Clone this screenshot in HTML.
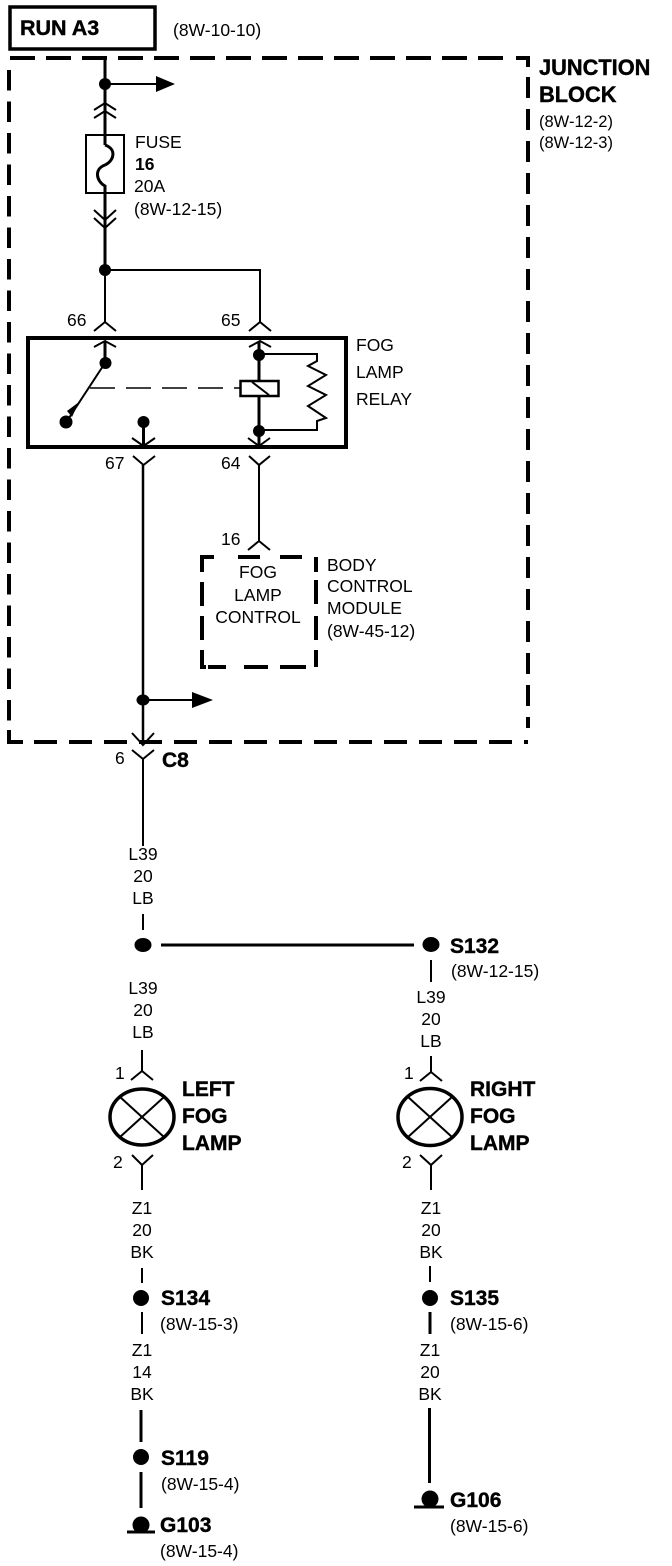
<!DOCTYPE html>
<html><head><meta charset="utf-8"><style>
html,body{margin:0;padding:0;background:#fff;width:672px;height:1566px;overflow:hidden}
svg{display:block}
text{font-family:"Liberation Sans",sans-serif;fill:#000}
.n{font-size:17.5px}
.b{font-size:21px;font-weight:bold;stroke:#000;stroke-width:.4px}
.m{text-anchor:middle}
.l{fill:none;stroke:#000;stroke-width:2}
.t{fill:none;stroke:#000;stroke-width:3}
.h{fill:none;stroke:#000;stroke-width:1.5}
.d{fill:none;stroke:#000;stroke-width:4}
</style></head><body>
<svg width="672" height="1566" viewBox="0 0 672 1566" xmlns="http://www.w3.org/2000/svg">
<rect x="10" y="7" width="145" height="42" fill="none" stroke="#000" stroke-width="3.5"/>
<text x="20" y="35" class="b" style="font-size:21.5px">RUN A3</text>
<text x="173" y="36" class="n">(8W-10-10)</text>

<!-- Junction block dashed outline -->
<path class="d" stroke-dasharray="25 11" d="M10 58H506"/>
<path class="d" d="M516 58H528V67"/>
<path class="d" stroke-dasharray="21 11" d="M528 77V728"/>
<path class="d" stroke-dasharray="20.5 11" d="M9 70V722"/>
<path class="d" stroke-dasharray="23 12" d="M34 742H528"/>
<path class="d" d="M9 730V742H23"/>
<text x="539" y="75" class="b" style="font-size:21.8px">JUNCTION</text>
<text x="539" y="102" class="b" style="font-size:21.8px">BLOCK</text>
<text x="539" y="127" class="n" style="font-size:16.5px">(8W-12-2)</text>
<text x="539" y="148" class="n" style="font-size:16.5px">(8W-12-3)</text>

<!-- Feed and fuse -->
<path class="t" d="M105 58V145"/>
<circle cx="105" cy="84" r="6"/>
<path class="l" d="M105 84H158"/>
<path d="M156 76L175 84L156 92Z"/>
<path class="l" d="M94 110L105 103L116 110M94 118L105 111L116 118"/>
<rect x="86" y="135" width="38" height="58" class="l"/>
<path class="t" d="M105 145C117 149 114 161 105 165C94 169 96 181 105 186V193"/>
<path class="t" d="M105 193V270"/>
<path class="l" d="M94 210L105 220L116 210M94 218L105 228L116 218"/>
<text x="135" y="148" class="n">FUSE</text>
<text x="135" y="170" class="n" style="font-weight:bold">16</text>
<text x="134" y="192" class="n">20A</text>
<text x="134" y="215" class="n">(8W-12-15)</text>

<circle cx="105" cy="270" r="6"/>
<path class="l" d="M105 270H260V322"/>
<path class="l" d="M105 270V322"/>
<path class="l" d="M94 331L105 322L116 331M249 331L260 322L271 331"/>
<text x="67" y="326" class="n">66</text>
<text x="221" y="326" class="n">65</text>

<!-- Relay -->
<rect x="28" y="338" width="318" height="109" fill="none" stroke="#000" stroke-width="4"/>
<text x="356" y="351" class="n">FOG</text>
<text x="356" y="378" class="n">LAMP</text>
<text x="356" y="405" class="n">RELAY</text>
<path class="l" d="M94 347L105 341L116 347M249 347L260 341L271 347"/>
<path class="t" d="M105 342V363"/>
<circle cx="105.500" cy="363" r="6"/>
<path class="l" d="M105 363L67 421"/>
<path d="M79 402L72 417L67 411Z"/>
<circle cx="66" cy="422" r="6.500"/>
<path class="h" stroke-dasharray="25 11" d="M90 388H240"/>
<path class="t" d="M259 342V381"/>
<circle cx="259" cy="355" r="6"/>
<rect x="240.500" y="381" width="38" height="15" fill="none" stroke="#000" stroke-width="2.500"/>
<path class="l" d="M252 382L269 395"/>
<path class="t" d="M259 396V445"/>
<circle cx="259" cy="431" r="6"/>
<path class="l" d="M259 354H317V361L308 366L326 375L308 386L326 395L308 406L326 418L317 421V430H259"/>
<circle cx="143.500" cy="422" r="6"/>
<path class="t" d="M143.500 422V446"/>
<path class="l" d="M132 438L143.500 446L155 438M248 438L259 446L270 438"/>
<path class="l" d="M133 456L143.500 465L155 456M249 456L259 465L270 456"/>
<text x="105" y="469" class="n">67</text>
<text x="221" y="469" class="n">64</text>

<path d="M143 465V745" fill="none" stroke="#000" stroke-width="2.500"/>
<path class="l" d="M259 465V541"/>
<path class="l" d="M248 550L259 541L270 550"/>
<text x="221" y="545" class="n">16</text>

<!-- BCM -->
<path class="d" d="M202 572V557H214M238 557H260M280 557H302M316 557V572M202 582V606M202 616V640M202 650V667H206M316 580V604M316 616V640M316 650V667M208 667H226M244 667H268M280 667H306"/>
<text x="258" y="578" class="n m">FOG</text>
<text x="258" y="601" class="n m">LAMP</text>
<text x="258" y="623" class="n m">CONTROL</text>
<text x="327" y="571" class="n">BODY</text>
<text x="327" y="592" class="n">CONTROL</text>
<text x="327" y="614" class="n">MODULE</text>
<text x="327" y="637" class="n">(8W-45-12)</text>

<!-- Branch and C8 -->
<ellipse cx="143" cy="700" rx="6.500" ry="5.500"/>
<path class="l" d="M143 700H193"/>
<path d="M192 692L213 700L192 708Z"/>
<path class="l" d="M132 733L143 745L154 733M132 750L143 759L154 750"/>
<path class="l" d="M143 759V846"/>
<text x="115" y="764" class="n">6</text>
<text x="162" y="767" class="b">C8</text>

<text x="143" y="860" class="n m">L39</text>
<text x="143" y="882" class="n m">20</text>
<text x="143" y="904" class="n m">LB</text>
<path class="l" d="M143 914V930"/>
<ellipse cx="143" cy="945" rx="8.500" ry="7"/>
<path class="t" d="M161 945H414"/>
<ellipse cx="431" cy="944.500" rx="8.500" ry="7.500"/>
<text x="450" y="953" class="b">S132</text>
<text x="451" y="977" class="n">(8W-12-15)</text>
<path class="l" d="M431 960V982"/>
<text x="431" y="1003" class="n m">L39</text>
<text x="431" y="1025" class="n m">20</text>
<text x="431" y="1047" class="n m">LB</text>
<text x="143" y="994" class="n m">L39</text>
<text x="143" y="1016" class="n m">20</text>
<text x="143" y="1038" class="n m">LB</text>

<!-- Left lamp -->
<path class="l" d="M142 1050V1071M131 1080L142 1071L153 1080"/>
<text x="115" y="1079" class="n">1</text>
<ellipse cx="142" cy="1117" rx="32" ry="28" fill="none" stroke="#000" stroke-width="3.500"/>
<path class="l" d="M120 1097L164 1137M164 1097L120 1137"/>
<text x="182" y="1096" class="b">LEFT</text>
<text x="182" y="1123" class="b">FOG</text>
<text x="182" y="1150" class="b">LAMP</text>
<text x="113" y="1168" class="n">2</text>
<path class="l" d="M132 1155L142 1165L153 1155M142 1165V1190"/>

<!-- Right lamp -->
<path class="l" d="M431 1056V1072M420 1081L431 1072L442 1081"/>
<text x="404" y="1079" class="n">1</text>
<ellipse cx="430" cy="1117" rx="32" ry="28.500" fill="none" stroke="#000" stroke-width="3.500"/>
<path class="l" d="M408 1097L452 1137M452 1097L408 1137"/>
<text x="470" y="1096" class="b">RIGHT</text>
<text x="470" y="1123" class="b">FOG</text>
<text x="470" y="1150" class="b">LAMP</text>
<text x="402" y="1168" class="n">2</text>
<path class="l" d="M420 1155L431 1165L442 1155M431 1165V1190"/>

<!-- Left lower -->
<text x="142" y="1214" class="n m">Z1</text>
<text x="142" y="1236" class="n m">20</text>
<text x="142" y="1258" class="n m">BK</text>
<path class="l" d="M142 1268V1283"/>
<circle cx="141" cy="1298" r="8"/>
<text x="161" y="1305" class="b">S134</text>
<text x="160" y="1330" class="n">(8W-15-3)</text>
<path class="l" d="M142 1312V1334"/>
<text x="142" y="1356" class="n m">Z1</text>
<text x="142" y="1378" class="n m">14</text>
<text x="142" y="1400" class="n m">BK</text>
<path class="t" d="M141 1410V1442"/>
<circle cx="141" cy="1457" r="8"/>
<text x="161" y="1465" class="b">S119</text>
<text x="161" y="1490" class="n">(8W-15-4)</text>
<path class="t" d="M141 1472V1508"/>
<circle cx="141" cy="1525" r="8.500"/>
<path class="t" d="M127 1532H155"/>
<text x="160" y="1532" class="b">G103</text>
<text x="160" y="1557" class="n">(8W-15-4)</text>

<!-- Right lower -->
<text x="431" y="1214" class="n m">Z1</text>
<text x="431" y="1236" class="n m">20</text>
<text x="431" y="1258" class="n m">BK</text>
<path class="l" d="M430 1266V1282"/>
<circle cx="430" cy="1298" r="8"/>
<text x="450" y="1305" class="b">S135</text>
<text x="450" y="1330" class="n">(8W-15-6)</text>
<path class="t" d="M430 1312V1334"/>
<text x="430" y="1356" class="n m">Z1</text>
<text x="430" y="1378" class="n m">20</text>
<text x="430" y="1400" class="n m">BK</text>
<path class="t" d="M429.500 1408V1483"/>
<circle cx="430" cy="1499" r="8.500"/>
<path class="t" d="M414 1507H444"/>
<text x="450" y="1507" class="b">G106</text>
<text x="450" y="1532" class="n">(8W-15-6)</text>
</svg>
</body></html>
